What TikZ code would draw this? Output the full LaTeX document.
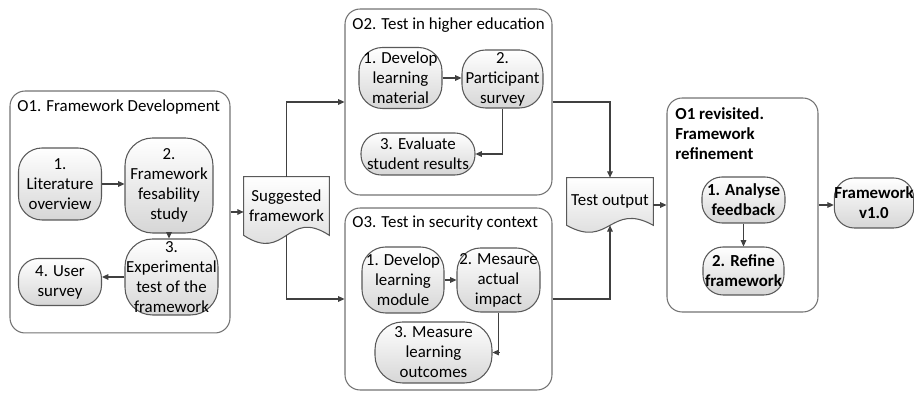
\documentclass[tikz,border=0pt]{standalone}
\usepackage{fontspec}
\setmainfont{Carlito}
\usetikzlibrary{arrows.meta,backgrounds}

\begin{document}
\begin{tikzpicture}[x=0.02cm,y=-0.02cm,
	font=\fontsize{9.6}{11.4}\selectfont,
	outerbox/.style={draw=black!55,line width=0.6pt,rounded corners=0.3cm,fill=white,inner sep=0pt},
	stepnode/.style={draw=black!65,line width=0.6pt,rounded corners=0.47cm,top color=white,bottom color=black!16,align=center,inner sep=0pt},
	smallstep/.style={stepnode,rounded corners=0.4cm},
	boldtext/.style={font=\fontsize{9.6}{11.4}\selectfont\bfseries},
	docnode/.style={align=center,inner sep=0pt},
	docline/.style={draw=black!65,line width=0.6pt,top color=white,bottom color=black!16},
	arr/.style={draw=black!75,line width=0.6pt,-{Triangle[length=3.6pt,width=3.2pt]}}]
		\useasboundingbox (0,0) rectangle (914,394) ;

		\node[outerbox,minimum width=4.4cm,minimum height=4.84cm] (o1) at (120,212) {} ;
		\node[outerbox,minimum width=4.14cm,minimum height=3.72cm] (o2) at (448.5,102) {} ;
		\node[outerbox,minimum width=4.14cm,minimum height=3.64cm] (o3) at (448.5,299) {} ;
		\node[outerbox,minimum width=3.02cm,minimum height=4.28cm] (o1r) at (742.5,205) {} ;

		\node[anchor=west,inner sep=0pt] (t1) at (17,107) {O1. Framework Development} ;
		\node[anchor=west,inner sep=0pt] (t2) at (352,25) {O2. Test in higher education} ;
		\node[anchor=west,inner sep=0pt] (t3) at (352,223) {O3. Test in security context} ;
		\node[anchor=west,inner sep=0pt,align=left,boldtext] (t4) at (675,134) {O1 revisited.\\Framework\\refinement} ;

		\node[stepnode,minimum width=1.66cm,minimum height=1.44cm] (lit) at (60,184) {1.\\Literature\\overview} ;
		\node[stepnode,rounded corners=0.55cm,minimum width=1.76cm,minimum height=1.9cm] (fes) at (169,185.5) {2.\\Framework\\fesability\\study} ;
		\node[stepnode,rounded corners=0.55cm,minimum width=1.86cm,minimum height=1.52cm] (exp) at (171.5,277) {3.\\Experimental\\test of the\\framework} ;
		\node[smallstep,minimum width=1.66cm,minimum height=0.94cm] (user) at (60,282) {4. User\\survey} ;

		\node[stepnode,minimum width=1.66cm,minimum height=1.22cm] (dev2) at (400.5,78) {1. Develop\\learning\\material} ;
		\node[stepnode,minimum width=1.62cm,minimum height=1.16cm] (part) at (502.5,79) {2.\\Participant\\survey} ;
		\node[smallstep,minimum width=2.28cm,minimum height=0.84cm] (eval) at (418,154) {3. Evaluate\\student results} ;

		\node[stepnode,minimum width=1.64cm,minimum height=1.32cm] (dev3) at (403,280) {1. Develop\\learning\\module} ;
		\node[stepnode,minimum width=1.66cm,minimum height=1.28cm] (imp) at (498.5,280) {2. Mesaure\\actual\\impact} ;
		\node[stepnode,rounded corners=0.55cm,minimum width=2.34cm,minimum height=1.22cm] (outc) at (433.5,352.5) {3. Measure\\learning\\outcomes} ;

		\node[smallstep,boldtext,minimum width=1.66cm,minimum height=0.92cm] (ana) at (743.5,200) {1. Analyse\\feedback} ;
		\node[smallstep,boldtext,minimum width=1.62cm,minimum height=0.96cm] (ref) at (743.5,271) {2. Refine\\framework} ;
		\node[smallstep,boldtext,minimum width=1.56cm,minimum height=1cm] (fv) at (874,203) {Framework\\v1.0} ;

		\node[docnode,minimum width=1.7cm,minimum height=1.16cm] (sugg) at (286.5,206) {Suggested\\framework} ;
		\node[docnode,minimum width=1.72cm,minimum height=0.94cm] (tout) at (610,201.5) {Test output} ;

		\begin{scope}[on background layer]
		\draw[docline] (sugg.south west) -- (sugg.north west) -- (sugg.north east) -- (sugg.south east) .. controls +(-42.5,-28) and +(42.5,28) .. (sugg.south west) -- cycle ;
		\draw[docline] (tout.south west) -- (tout.north west) -- (tout.north east) -- (tout.south east) .. controls +(-43,-24) and +(43,24) .. (tout.south west) -- cycle ;
		\end{scope}

		\draw[arr] (lit.east) -- (lit.east -| fes.west) ;
		\draw[arr] (fes.south) -- (fes.south |- exp.north) ;
		\draw[arr] (exp.west) -- (exp.west -| user.east) ;
		\draw[arr] (o1.east) -- (o1.east -| sugg.west) ;
		\draw[arr] (sugg.north) |- (o2.west) ;
		\draw[arr] (sugg.south) |- (o3.west) ;
		\draw[arr] (dev2.east) -- (dev2.east -| part.west) ;
		\draw[arr] (part.south) |- (eval.east) ;
		\draw[arr] (dev3.east) -- (dev3.east -| imp.west) ;
		\draw[arr] (imp.south) |- (outc.east) ;
		\draw[arr] (o2.east) -| (tout.north) ;
		\draw[arr] (o3.east) -| (tout.south) ;
		\draw[arr] (o1r.west -| tout.east) -- (o1r.west) ;
		\draw[arr] (ana) -- (ref) ;
		\draw[arr] (o1r.east) -- (o1r.east -| fv.west) ;
	\end{tikzpicture}
\end{document}
